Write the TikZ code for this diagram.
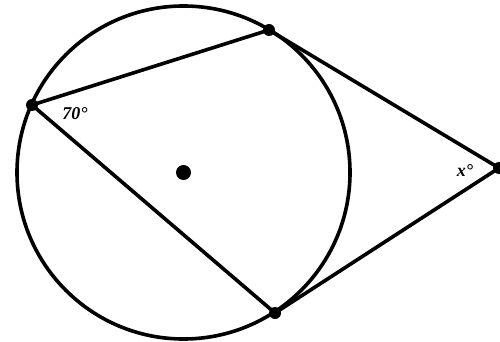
\documentclass[tikz,border=0pt]{standalone}
\usepackage{fontspec}
\setmainfont{Liberation Serif}
\usetikzlibrary{calc}
\begin{document}
\begin{tikzpicture}[x=1pt,y=-1pt,
  ln/.style={line width=3.6pt, line join=round},
  pt/.style={circle, fill=black, inner sep=0pt, minimum size=12pt},
  lbl/.style={font=\bfseries\itshape\fontsize{18}{20}\selectfont}]
\useasboundingbox (0,0) rectangle (500,342);
\coordinate (O) at (183.5,172.5);
\draw[ln] (O) circle[radius=166.5];
\coordinate (A) at (32,105);
\coordinate (B) at (269,30);
\coordinate (C) at (275,313);
\coordinate (D) at (499,168);
\draw[ln] (C) -- (A) -- (B) -- (D) -- (C);
\node[pt] (a) at (A) {};
\node[pt] (b) at (B) {};
\node[pt] (c) at (C) {};
\node[pt] (d) at (D) {};
\node[pt, minimum size=15pt] (o) at (O) {};
\node[lbl] (t70) at (75,114) {70°};
\node[lbl] (tx) at (465,171) {x°};
\end{tikzpicture}
\end{document}
